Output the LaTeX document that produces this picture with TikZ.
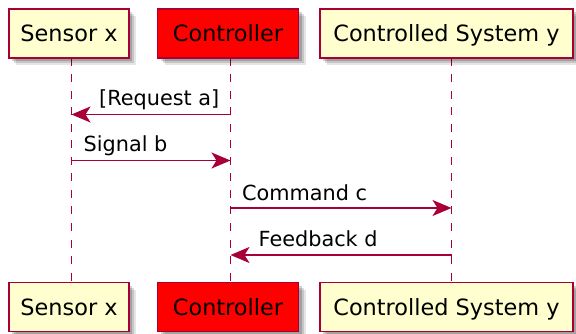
\documentclass[tikz,border=0pt]{standalone}
\usepackage{fontspec}
\setmainfont{DejaVu Sans}
\usetikzlibrary{arrows.meta}
\definecolor{umlline}{HTML}{A80036}
\definecolor{umlfill}{HTML}{FEFECE}
\definecolor{umlactive}{HTML}{FF0000}

\begin{document}
\begin{tikzpicture}[x=1pt,y=-1pt,
  participant/.style={draw=umlline, line width=1.7pt, fill=umlfill,
    inner sep=0pt, minimum height=49pt, text height=16.3pt, text depth=0pt,
    font=\fontsize{22.4}{26}\selectfont,
    preaction={fill=black, opacity=0.10, transform canvas={shift={(7pt,-7pt)}}},
    preaction={fill=black, opacity=0.14, transform canvas={shift={(5pt,-5pt)}}},
    preaction={fill=black, opacity=0.18, transform canvas={shift={(3pt,-3pt)}}}},
  lifeline/.style={draw=umlline, line width=1.5pt, dash pattern=on 8pt off 8.5pt},
  msg/.style={draw=umlline, line width=1.5pt,
    -{Stealth[length=19pt,width=16pt,inset=5pt]}},
  msglabel/.style={font=\fontsize{20.8}{24}\selectfont, inner sep=0pt, anchor=base west}]

\useasboundingbox (0,0) rectangle (576,334);

% lifeline end points
\coordinate (lsT) at (71.5,58);  \coordinate (lsB) at (71.5,282.5);
\coordinate (lcT) at (230.5,58); \coordinate (lcB) at (230.5,282.5);
\coordinate (lyT) at (451.5,58); \coordinate (lyB) at (451.5,282.5);

% lifelines, drawn first so the box shadows lie over them
\draw[lifeline] (lsT) -- (lsB);
\draw[lifeline] (lcT) -- (lcB);
\draw[lifeline] (lyT) -- (lyB);

% participants, top row
\node[participant, minimum width=120pt] (sx)  at (69,33.5)  {Sensor x};
\node[participant, minimum width=141pt, fill=umlactive] (ctl) at (228,33.5) {Controller};
\node[participant, minimum width=253pt] (sy)  at (446.5,33.5) {Controlled System y};

% participants, bottom row
\node[participant, minimum width=120pt] (sxb)  at (69,307)  {Sensor x};
\node[participant, minimum width=141pt, fill=umlactive] (ctlb) at (228,307) {Controller};
\node[participant, minimum width=253pt] (syb)  at (446.5,307) {Controlled System y};

% message end points
\coordinate (m1c) at (230.5,114.5); \coordinate (m1s) at (71.5,114.5);
\coordinate (m2s) at (71.5,160.5);  \coordinate (m2c) at (230.5,160.5);
\coordinate (m3c) at (230.5,208);   \coordinate (m3y) at (451.5,208);
\coordinate (m4y) at (451.5,255);   \coordinate (m4c) at (230.5,255);

\draw[msg] (m1c) -- (m1s);
\draw[msg] (m2s) -- (m2c);
\draw[msg] (m3c) -- (m3y);
\draw[msg] (m4y) -- (m4c);

\node[msglabel] (l1) at (99,106)    {[Request a]};
\node[msglabel] (l2) at (83.5,152)  {Signal b};
\node[msglabel] (l3) at (242,200.5) {Command c};
\node[msglabel] (l4) at (258.5,247) {Feedback d};

\end{tikzpicture}
\end{document}
